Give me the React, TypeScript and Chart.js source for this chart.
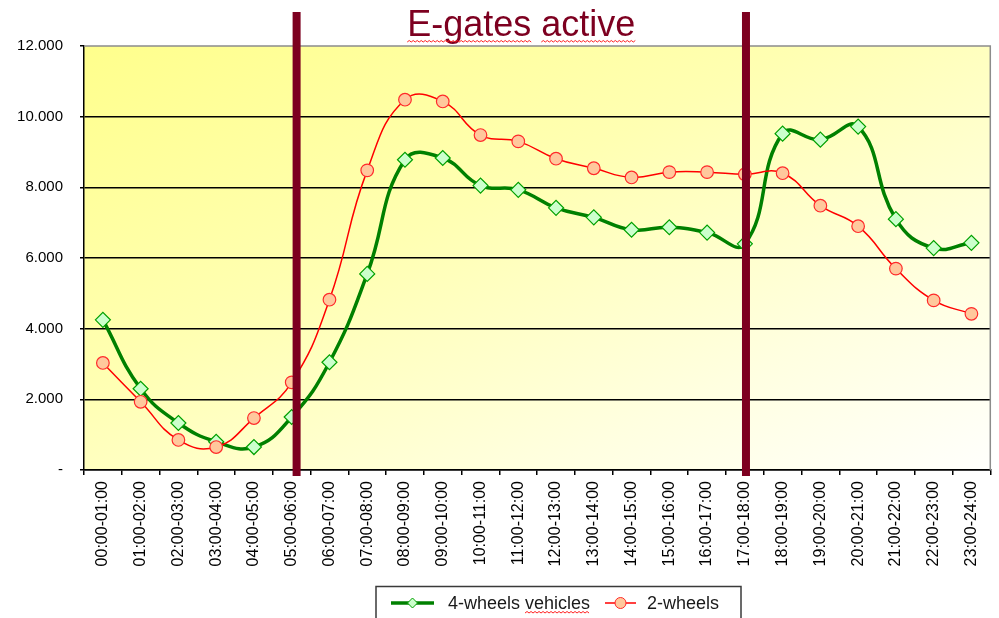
import React, { useEffect, useRef } from 'react';
import { Chart, registerables } from 'chart.js';

Chart.register(...registerables);

const hours = [
  '00:00-01:00', '01:00-02:00', '02:00-03:00', '03:00-04:00', '04:00-05:00', '05:00-06:00',
  '06:00-07:00', '07:00-08:00', '08:00-09:00', '09:00-10:00', '10:00-11:00', '11:00-12:00',
  '12:00-13:00', '13:00-14:00', '14:00-15:00', '15:00-16:00', '16:00-17:00', '17:00-18:00',
  '18:00-19:00', '19:00-20:00', '20:00-21:00', '21:00-22:00', '22:00-23:00', '23:00-24:00',
];
const fourWheels = [4250, 2300, 1330, 800, 650, 1500, 3050, 5550, 8780, 8830, 8050, 7930, 7420, 7150, 6800, 6870, 6720, 6400, 9520, 9350, 9720, 7100, 6280, 6430];
const twoWheels = [3030, 1930, 850, 650, 1470, 2480, 4820, 8480, 10480, 10430, 9480, 9300, 8810, 8540, 8280, 8430, 8430, 8370, 8400, 7480, 6900, 5700, 4800, 4420];
const seriesLabels = ['4-wheels vehicles', '2-wheels'];
const yMin = 0;
const yMax = 12000;
const yStep = 2000;
const gateMarkers = [5.13, 17.03];
const titleText = 'E-gates active';

const FONT = '"Liberation Sans", Arial, sans-serif';
const MAROON = '#7d0020';

function fmt(v: number): string {
  if (v === 0) return '-';
  return String(v).replace(/\B(?=(\d{3})+(?!\d))/g, '.');
}

function wavy(ctx: CanvasRenderingContext2D, x0: number, x1: number, y: number) {
  ctx.save();
  ctx.strokeStyle = '#ff2020';
  ctx.lineWidth = 1;
  ctx.beginPath();
  let up = true;
  ctx.moveTo(x0, y);
  for (let x = x0 + 2; x <= x1; x += 2) {
    ctx.lineTo(x, up ? y - 1.5 : y);
    up = !up;
  }
  ctx.stroke();
  ctx.restore();
}

const decorPlugin = {
  id: 'decor',
  beforeDraw(chart: any) {
    const { ctx, chartArea: a } = chart;
    ctx.save();
    ctx.fillStyle = '#ffffff';
    ctx.fillRect(0, 0, chart.width, chart.height);
    const w = a.right - a.left;
    const h = a.bottom - a.top;
    ctx.translate(a.left, a.top);
    ctx.scale(w, h);
    const g = ctx.createLinearGradient(0, 0, 1, 1);
    g.addColorStop(0, '#ffff8c');
    g.addColorStop(0.4, '#ffffb2');
    g.addColorStop(0.75, '#ffffe0');
    g.addColorStop(1, '#fffffc');
    ctx.fillStyle = g;
    ctx.fillRect(0, 0, 1, 1);
    ctx.restore();
  },
  beforeDatasetsDraw(chart: any) {
    const { ctx, chartArea: a } = chart;
    ctx.save();
    ctx.strokeStyle = '#8c8c8c';
    ctx.lineWidth = 1.5;
    ctx.beginPath();
    ctx.moveTo(a.left, a.top);
    ctx.lineTo(a.right, a.top);
    ctx.lineTo(a.right, a.bottom);
    ctx.stroke();
    ctx.restore();
  },
  afterDatasetsDraw(chart: any) {
    const { ctx, chartArea: a } = chart;
    const xs = chart.scales.x;
    ctx.save();
    ctx.strokeStyle = MAROON;
    ctx.lineWidth = 8;
    gateMarkers.forEach((m) => {
      const x = xs.getPixelForValue(m);
      ctx.beginPath();
      ctx.moveTo(x, a.top - 34);
      ctx.lineTo(x, a.bottom + 6);
      ctx.stroke();
    });
    ctx.restore();
  },
  afterDraw(chart: any) {
    const { ctx, chartArea: a } = chart;
    const xs = chart.scales.x;
    const cx = (xs.getPixelForValue(gateMarkers[0]) + xs.getPixelForValue(gateMarkers[1])) / 2;
    ctx.save();
    ctx.font = `36px ${FONT}`;
    ctx.fillStyle = MAROON;
    ctx.textAlign = 'left';
    ctx.textBaseline = 'alphabetic';
    const tw = ctx.measureText(titleText).width;
    const tx = cx - tw / 2;
    const ty = a.top - 10;
    ctx.fillText(titleText, tx, ty);
    const words = titleText.split(' ');
    let off = 0;
    words.forEach((w) => {
      const ww = ctx.measureText(w).width;
      wavy(ctx, tx + off, tx + off + ww, ty + 6);
      off += ww + ctx.measureText(' ').width;
    });
    ctx.restore();

    const ds = chart.data.datasets;
    ctx.save();
    ctx.strokeStyle = '#3a3a3a';
    ctx.lineWidth = 1.5;
    ctx.strokeRect(376, 586.5, 365, 40);
    const ly = 603;
    ctx.font = `18px ${FONT}`;
    ctx.textBaseline = 'middle';
    ctx.fillStyle = '#1a1a1a';
    const items = [
      { x0: 391, x1: 434, tx: 448 },
      { x0: 605, x1: 636, tx: 647 },
    ];
    items.forEach((it, i) => {
      const d = ds[i];
      ctx.strokeStyle = d.borderColor;
      ctx.lineWidth = d.borderWidth;
      ctx.beginPath();
      ctx.moveTo(it.x0, ly);
      ctx.lineTo(it.x1, ly);
      ctx.stroke();
      const px = (it.x0 + it.x1) / 2;
      ctx.fillStyle = d.pointBackgroundColor;
      ctx.strokeStyle = d.pointBorderColor;
      ctx.lineWidth = 1;
      ctx.beginPath();
      if (d.pointStyle === 'rectRot') {
        const r = 5;
        ctx.moveTo(px - r, ly);
        ctx.lineTo(px, ly - r);
        ctx.lineTo(px + r, ly);
        ctx.lineTo(px, ly + r);
        ctx.closePath();
      } else {
        ctx.arc(px, ly, 5.5, 0, Math.PI * 2);
      }
      ctx.fill();
      ctx.stroke();
      ctx.fillStyle = '#1a1a1a';
      ctx.fillText(d.label, it.tx, ly + 1);
      if (i === 0) {
        const w1 = ctx.measureText('4-wheels ').width;
        const w2 = ctx.measureText('vehicles').width;
        wavy(ctx, it.tx + w1, it.tx + w1 + w2, ly + 10);
      }
    });
    ctx.restore();
  },
};

export default function App() {
  const ref = useRef<HTMLCanvasElement | null>(null);
  useEffect(() => {
    document.body.style.margin = '0';
    const canvas = ref.current;
    if (!canvas) return;
    const chart = new Chart(canvas, {
      type: 'line',
      data: {
        labels: hours,
        datasets: [
          {
            label: seriesLabels[0],
            data: fourWheels,
            borderColor: '#008000',
            borderWidth: 3.5,
            pointStyle: 'rectRot',
            pointRadius: 7.5,
            pointBackgroundColor: '#ccffcc',
            pointBorderColor: '#00a000',
            pointBorderWidth: 1.2,
            tension: 0.45,
            fill: false,
            order: 1,
          },
          {
            label: seriesLabels[1],
            data: twoWheels,
            borderColor: '#ff0000',
            borderWidth: 1.5,
            pointStyle: 'circle',
            pointRadius: 6.3,
            pointBackgroundColor: '#ffc89c',
            pointBorderColor: '#ff2a2a',
            pointBorderWidth: 1.2,
            tension: 0.45,
            fill: false,
            order: 0,
          },
        ] as any,
      },
      options: {
        responsive: false,
        animation: false,
        devicePixelRatio: 1,
        layout: { padding: { top: 46, right: 5, left: 0, bottom: 0 } },
        plugins: {
          legend: { display: false },
          tooltip: { enabled: false },
          title: { display: false },
        },
        scales: {
          x: {
            type: 'category',
            offset: true,
            grid: {
              offset: true,
              drawOnChartArea: false,
              drawTicks: true,
              tickLength: 5,
              color: '#000',
              lineWidth: 1.5,
            },
            border: { display: true, color: '#000', width: 1.5 },
            ticks: {
              autoSkip: false,
              maxRotation: 90,
              minRotation: 90,
              padding: 6,
              color: '#000',
              font: { family: FONT, size: 16 },
            },
            afterFit: (s: any) => { s.height = 148; },
          },
          y: {
            min: yMin,
            max: yMax,
            ticks: {
              stepSize: yStep,
              padding: 17,
              color: '#000',
              font: { family: FONT, size: 15 },
              callback: (v: any) => fmt(Number(v)),
            },
            grid: {
              color: (c: any) => (c.tick && c.tick.value === yMax ? 'rgba(0,0,0,0)' : '#000'),
              lineWidth: 1.5,
              tickLength: 4,
              tickColor: '#000',
            },
            border: { display: true, color: '#000', width: 1.5 },
            afterFit: (s: any) => { s.width = 84; },
          },
        },
      },
      plugins: [decorPlugin],
    } as any);
    return () => chart.destroy();
  }, []);
  return (
    <div style={{ width: 999, height: 618, position: 'relative' }}>
      <canvas ref={ref} width={999} height={618} style={{ display: 'block' }} />
    </div>
  );
}
